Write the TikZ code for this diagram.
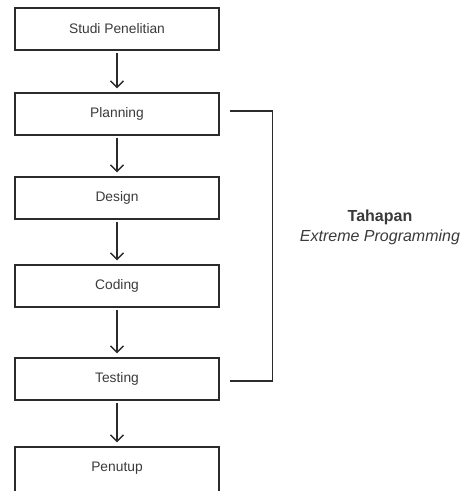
\documentclass[tikz,border=0pt]{standalone}
\usepackage{fontspec}
\setmainfont{Liberation Sans}
\usetikzlibrary{positioning,calc}
\definecolor{txt}{HTML}{3A3A3A}
\definecolor{ln}{HTML}{2B2B2B}
\tikzset{
  stepbox/.style={draw=ln, line width=1.2pt, minimum width=204pt, minimum height=42pt, inner sep=0pt, text=txt, font=\fontsize{13.8}{16}\selectfont},
  flow/.style={draw=ln, line width=1.4pt},
  chev/.style={draw=ln, line width=1.4pt, line join=miter},
  brack/.style={draw=ln, line width=1.3pt}
}
\newcommand{\flowarrow}[3]{%
  \coordinate (#3) at ([yshift=5pt]#2.north);
  \draw[flow] ([yshift=-2pt]#1.south) -- (#3);
  \draw[chev] ([shift={(-6.5pt,6.5pt)}]#3) -- (#3) -- ([shift={(6.5pt,6.5pt)}]#3);
}
\begin{document}
\begin{tikzpicture}[x=1pt,y=1pt]
\useasboundingbox (0,0) rectangle (466,-491);
\clip (0,0) rectangle (466,-491);
\node[stepbox] (s) at (117,-29) {Studi Penelitian};
\node[stepbox] (p) at (117,-114) {Planning};
\node[stepbox] (d) at (117,-198) {Design};
\node[stepbox] (c) at (117,-286) {Coding};
\node[stepbox] (t) at (117,-379) {Testing};
\node[stepbox, minimum height=46pt] (e) at (117,-470) {};
\node[text=txt, font=\fontsize{13.8}{16}\selectfont] (etext) at (117,-468) {Penutup};
\flowarrow{s}{p}{tp}
\flowarrow{p}{d}{td}
\flowarrow{d}{c}{tc}
\flowarrow{c}{t}{tt}
\flowarrow{t}{e}{te}
\coordinate (b1) at ([xshift=10pt,yshift=3pt]p.east);
\coordinate (b2) at ([xshift=10pt,yshift=-2pt]t.east);
\draw[brack] (b1) -- ++(43,0) |- (b2);
\node[text=txt, font=\fontsize{16}{20}\selectfont, align=center] (lbl) at (380,-227) {\textbf{Tahapan}\\\textit{Extreme Programming}};
\end{tikzpicture}
\end{document}
